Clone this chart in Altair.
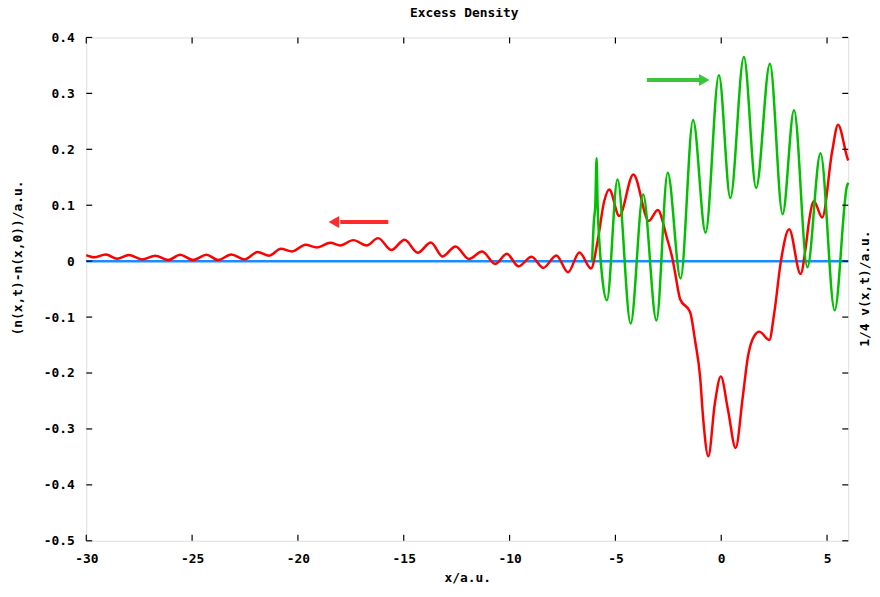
import altair as alt
import pandas as pd

# ---- data ----
red_x = [-30.0, -29.63, -29.08, -28.54, -27.99, -27.37, -26.74, -26.12, -25.57, -24.95,
         -24.32, -23.77, -23.15, -22.53, -21.9, -21.36, -20.81, -20.27, -19.64, -19.1,
         -18.47, -18.0, -17.38, -16.76, -16.21, -15.59, -14.96, -14.34, -13.72, -13.17,
         -12.55, -11.92, -11.3, -10.67, -10.13, -9.58, -8.96, -8.41, -7.79, -7.24,
         -6.70, -6.15, -5.84, -5.53, -5.29, -4.82, -4.15, -3.42, -3.0, -2.57,
         -2.28, -2.17, -1.94, -1.47, -1.24, -1.0, -0.85, -0.61, -0.30, -0.02,
         0.32, 0.68, 1.02, 1.26, 1.57, 1.80, 2.27, 2.50, 2.82, 3.21,
         3.75, 3.99, 4.15, 4.38, 4.77, 5.24, 5.52, 5.94, 6.0]
red_y = [0.011, 0.0068, 0.012, 0.0044, 0.011, 0.0032, 0.0098, 0.002, 0.0115, 0.002,
         0.0115, 0.002, 0.012, 0.0032, 0.0163, 0.0098, 0.0222, 0.0174, 0.0293, 0.0245,
         0.0329, 0.0281, 0.0376, 0.0281, 0.0412, 0.0199, 0.0382, 0.0151, 0.0334, 0.0085,
         0.0263, 0.0039, 0.0174, -0.005, 0.0133, -0.0092, 0.008, -0.0121, 0.0103, -0.0199,
         0.0156, -0.013, 0.036, 0.107, 0.128, 0.081, 0.155, 0.072, 0.0915, 0.042,
         0.0, -0.023, -0.068, -0.091, -0.141, -0.206, -0.283, -0.349, -0.254, -0.206,
         -0.266, -0.334, -0.242, -0.171, -0.133, -0.126, -0.141, -0.094, 0.0, 0.057,
         -0.023, 0.0245, 0.072, 0.107, 0.078, 0.196, 0.244, 0.187, 0.18]

green_x = [-6.1, -6.02, -5.95, -5.89, -5.84, -5.75, -5.62, -5.40, -4.90, -4.28,
           -3.69, -3.06, -2.53, -1.92, -1.33, -0.74, -0.11, 0.43, 1.07, 1.65,
           2.30, 2.90, 3.44, 4.07, 4.69, 5.36, 5.94, 6.0]
green_y = [0.0, 0.07, 0.10, 0.184, 0.10, 0.03, -0.03, -0.070, 0.146, -0.1115,
           0.119, -0.106, 0.158, -0.031, 0.2526, 0.051, 0.3325, 0.113, 0.365, 0.131,
           0.353, 0.084, 0.270, -0.011, 0.193, -0.088, 0.134, 0.14]

zero_x = [-30.0, 6.0]
zero_y = [0.0, 0.0]

x_ticks = [-30, -25, -20, -15, -10, -5, 0, 5]
y_ticks = [-0.5, -0.4, -0.3, -0.2, -0.1, 0.0, 0.1, 0.2, 0.3, 0.4]

arrow_names = ["red", "green"]
arrow_x_start = [-15.73, -3.51]
arrow_x_end = [-18.0, -1.0]
arrow_head_x = [-18.3, -0.80]
arrow_y = [0.070, 0.324]
arrow_shape = ["triangle-left", "triangle-right"]
arrow_color = ["#ff2a2a", "#3cc43c"]

chart_title = ["Excess Density"]

# ---- tables ----
red_df = pd.DataFrame({"x": red_x, "y": red_y})
green_df = pd.DataFrame({"x": green_x, "y": green_y})
zero_df = pd.DataFrame({"x": zero_x, "y": zero_y})
xt_df = pd.DataFrame({"t": x_ticks})
yt_df = pd.DataFrame({"t": y_ticks})
arr_df = pd.DataFrame({"name": arrow_names, "x1": arrow_x_start, "x2": arrow_x_end,
                       "hx": arrow_head_x, "y": arrow_y, "shape": arrow_shape,
                       "color": arrow_color})
title_df = pd.DataFrame({"label": chart_title})

FONT = "DejaVu Sans Mono"
FS = 13
W, H = 769, 508
TL = 6

xs = alt.Scale(domain=[-30, 6], nice=False, zero=False)
ys = alt.Scale(domain=[-0.5, 0.4], nice=False, zero=False)

x_axis = alt.Axis(values=x_ticks, title="x/a.u.", grid=False, ticks=False, domain=False,
                  labelExpr="datum.value < 0 ? '-' + format(-datum.value, 'd') : format(datum.value, 'd')",
                  labelPadding=12, titlePadding=6, labelFont=FONT, titleFont=FONT,
                  labelFontSize=FS, titleFontSize=FS, labelFontWeight="bold",
                  titleFontWeight="bold", labelColor="black", titleColor="black",
                  labelFlush=False)
y_axis = alt.Axis(values=y_ticks, title="(n(x,t)-n(x,0))/a.u.", grid=False, ticks=False,
                  domain=False,
                  labelExpr="datum.value == 0 ? '0' : (datum.value < 0 ? '-' + format(-datum.value, '.1f') : format(datum.value, '.1f'))",
                  labelPadding=12, labelFont=FONT, titleFont=FONT, labelFontSize=FS,
                  titleFontSize=FS, labelFontWeight="bold", titleFontWeight="bold",
                  labelColor="black", titleColor="black", titleAngle=270,
                  titleX=-69, titleY=222, titleAlign="center", titleBaseline="middle",
                  labelFlush=False)
y_axis_r = alt.Axis(orient="right", title="1/4 v(x,t)/a.u.", grid=False, ticks=False,
                    domain=False, labels=False, titleFont=FONT, titleFontSize=FS,
                    titleFontWeight="bold", titleColor="black", titleAngle=270,
                    titleX=16, titleY=253, titleAlign="center", titleBaseline="middle")

zero_line = alt.Chart(zero_df).mark_line(color="#1a8cff", strokeWidth=2.5).encode(
    x=alt.X("x:Q", scale=xs, axis=x_axis),
    y=alt.Y("y:Q", scale=ys, axis=y_axis),
)
red_line = alt.Chart(red_df).mark_line(color="#ff0000", strokeWidth=2.5,
                                       interpolate="monotone").encode(
    x=alt.X("x:Q", scale=xs, axis=None),
    y=alt.Y("y:Q", scale=ys, axis=y_axis_r),
    order="x:Q",
)
green_line = alt.Chart(green_df).mark_line(color="#00c000", strokeWidth=2.5,
                                           interpolate="monotone").encode(
    x=alt.X("x:Q", scale=xs, axis=None),
    y=alt.Y("y:Q", scale=ys, axis=None),
    order="x:Q",
)
shafts = alt.Chart(arr_df).mark_rule(strokeWidth=4).encode(
    x=alt.X("x1:Q", scale=xs, axis=None),
    x2="x2:Q",
    y=alt.Y("y:Q", scale=ys, axis=None),
    color=alt.Color("color:N", scale=None),
)
heads = alt.Chart(arr_df).mark_point(filled=True, size=150, opacity=1).encode(
    x=alt.X("hx:Q", scale=xs, axis=None),
    y=alt.Y("y:Q", scale=ys, axis=None),
    shape=alt.Shape("shape:N", scale=None),
    color=alt.Color("color:N", scale=None),
)
title_text = alt.Chart(title_df).mark_text(
    font=FONT, fontSize=FS, fontWeight="bold", color="black",
    align="center", baseline="middle",
).encode(x=alt.value(W / 2 - 3), y=alt.value(-25), text="label:N")

tick_style = dict(color="black", strokeWidth=1.2)
left_ticks = alt.Chart(yt_df).mark_rule(**tick_style).encode(
    y=alt.Y("t:Q", scale=ys, axis=None), x=alt.value(0), x2=alt.value(TL))
right_ticks = alt.Chart(yt_df).mark_rule(**tick_style).encode(
    y=alt.Y("t:Q", scale=ys, axis=None), x=alt.value(W - TL), x2=alt.value(W))
bottom_ticks = alt.Chart(xt_df).mark_rule(**tick_style).encode(
    x=alt.X("t:Q", scale=xs, axis=None), y=alt.value(H - TL), y2=alt.value(H))
top_ticks = alt.Chart(xt_df).mark_rule(**tick_style).encode(
    x=alt.X("t:Q", scale=xs, axis=None), y=alt.value(0), y2=alt.value(TL))

chart = alt.layer(
    zero_line, red_line, green_line, shafts, heads,
    left_ticks, right_ticks, bottom_ticks, top_ticks, title_text,
).resolve_axis(x="independent", y="independent").properties(
    width=W, height=H,
    autosize=alt.AutoSizeParams(type="none"),
    padding={"left": 79, "top": 27, "right": 24, "bottom": 54},
).configure_view(stroke="#222222", strokeWidth=1.5).configure(background="white")

chart.save("out.html", embed_options={"renderer": "svg", "actions": False})
